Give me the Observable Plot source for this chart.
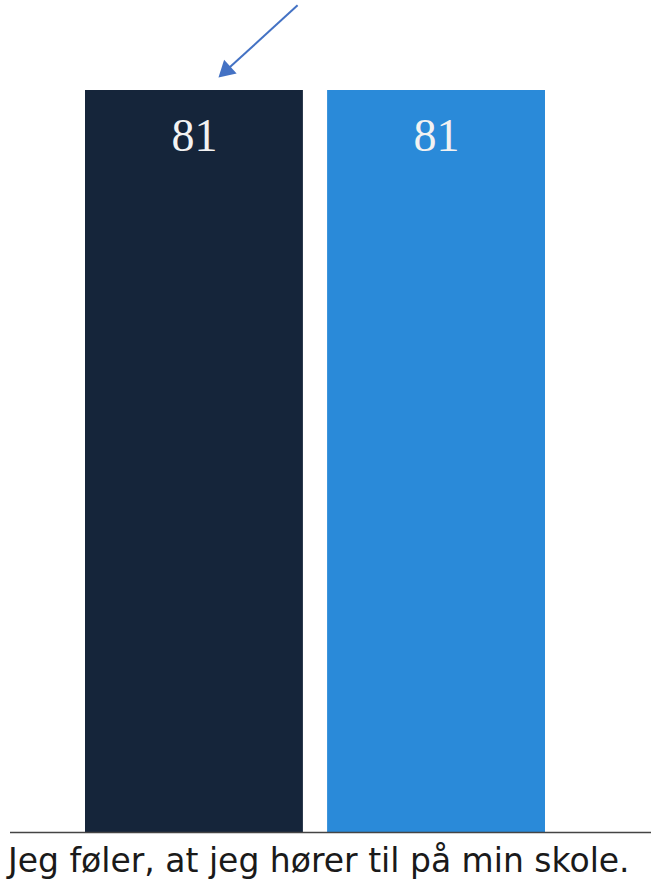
<!DOCTYPE html>
<html>
<head>
<meta charset="utf-8">
<script src="https://cdn.jsdelivr.net/npm/d3@7"></script>
<script src="https://cdn.jsdelivr.net/npm/@observablehq/plot@0.6"></script>
<style>
  html, body { margin: 0; padding: 0; background: #fff; }
  #chart svg { display: block; }
  #caption { font-family: "DejaVu Sans", Verdana, sans-serif; font-size: 33px; color: #1a1a1a; margin: 7px 0 0 8px; line-height: 38px; white-space: nowrap; }
</style>
</head>
<body>
<div id="chart"></div>
<div id="caption"></div>
<script>
// Data
const categories = ["Skole", "Landsgennemsnit"];
const values = [81, 81];
const barColors = ["#15253a", "#2a8ad9"];
const captionText = "Jeg føler, at jeg hører til på min skole.";
// Annotation arrow (in data units: x = category index position, y = value)
const arrowTail = {x: 0.876, y: 90.3};
const arrowHead = {x: 0.582, y: 83.2};

const bars = categories.map((c, i) => ({cat: c, i, value: values[i], color: barColors[i]}));

const chart = Plot.plot({
  width: 651,
  height: 835,
  marginTop: 90,
  marginBottom: 3,
  marginLeft: 10,
  marginRight: 0,
  x: {domain: [0, 1.9], range: [85, 545], axis: null},
  y: {domain: [0, 81], axis: null},
  marks: [
    Plot.rectY(bars, {x1: d => d.i, x2: d => d.i + 0.9, y1: 0, y2: "value", fill: "color"}),
    Plot.text(bars, {x: d => d.i + 0.45, y: "value", text: d => String(d.value), dy: 46, fill: "#f2f2f2", fontSize: 46, fontFamily: "Liberation Serif, serif"}),
    Plot.ruleY([0], {stroke: "#444", strokeWidth: 1.5}),
    Plot.link([{}], {x1: () => arrowTail.x, y1: () => arrowTail.y, x2: () => arrowHead.x, y2: () => arrowHead.y, stroke: "#4472c4", strokeWidth: 2}),
    Plot.dot([arrowHead], {x: "x", y: "y", symbol: "triangle", r: 6.9, fill: "#4472c4", stroke: "none", rotate: 227.7})
  ]
});
document.getElementById("chart").appendChild(chart);
document.getElementById("caption").textContent = captionText;
</script>
</body>
</html>
